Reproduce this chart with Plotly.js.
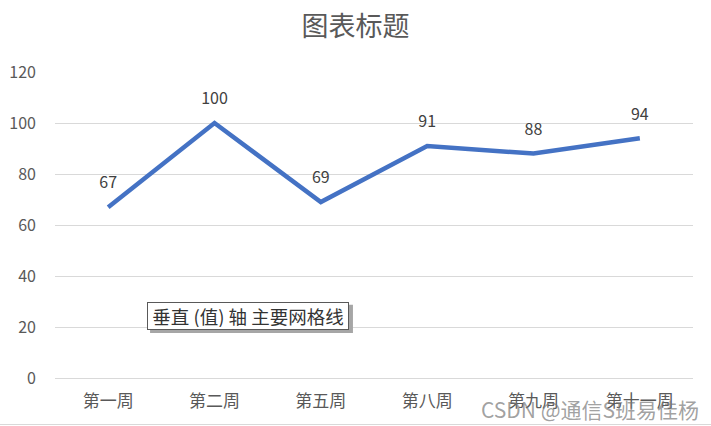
<!DOCTYPE html>
<html>
<head>
<meta charset="utf-8">
<script src="https://cdn.plot.ly/plotly-3.0.1.min.js"></script>
<style>html,body{margin:0;padding:0;background:#fff;}#chart{width:711px;height:426px;}</style>
</head>
<body>
<div id="chart"></div>
<script>
const categories = ["第一周", "第二周", "第五周", "第八周", "第九周", "第十一周"];
const values = [67, 100, 69, 91, 88, 94];
const yTicks = [0, 20, 40, 60, 80, 100, 120];
const chartTitle = "图表标题";
const tooltipText = "垂直 (值) 轴 主要网格线";
const watermark = "CSDN @通信S班易佳杨";

const FONT = '"Microsoft YaHei", "Noto Sans CJK SC", sans-serif';

const trace = {
  x: categories,
  y: values,
  type: "scatter",
  mode: "lines+markers+text",
  line: {color: "#4472C4", width: 4.5},
  marker: {size: 22, opacity: 0, color: "#4472C4"},
  text: values.map(String),
  textposition: "top center",
  textfont: {family: FONT, size: 16, color: "#404040"},
  hoverinfo: "none",
  cliponaxis: false
};

const layout = {
  width: 711,
  height: 426,
  margin: {l: 55, r: 18, t: 72, b: 48},
  paper_bgcolor: "#ffffff",
  plot_bgcolor: "#ffffff",
  showlegend: false,
  title: {text: chartTitle, font: {family: FONT, size: 27, color: "#595959"}, x: 0.5, xanchor: "center", y: 0.937, yanchor: "middle"},
  xaxis: {
    type: "category",
    range: [-0.5, categories.length - 0.5],
    tickfont: {family: FONT, size: 17, color: "#595959"},
    showgrid: false,
    showline: true,
    linecolor: "#d9d9d9",
    linewidth: 1,
    ticks: "",
    ticklabelstandoff: 8,
    zeroline: false,
    fixedrange: true
  },
  yaxis: {
    range: [0, 120],
    tickvals: yTicks,
    ticktext: yTicks.map(String),
    tickfont: {family: FONT, size: 16, color: "#595959"},
    showgrid: true,
    gridcolor: "#d9d9d9",
    gridwidth: 1,
    zeroline: false,
    showline: false,
    ticks: "",
    ticklabelstandoff: 18,
    fixedrange: true
  },
  shapes: [
    {type: "rect", xref: "paper", yref: "paper", x0: 0.149, x1: 0.467, y0: 0.147, y1: 0.239, fillcolor: "#a6a6a6", line: {width: 0}, layer: "above"},
    {type: "line", xref: "paper", yref: "paper", x0: -0.09, x1: 1.03, y0: -0.152, y1: -0.152, line: {color: "#d9d9d9", width: 1}}
  ],
  annotations: [
    {
      xref: "paper", yref: "paper", x: 0.144, y: 0.203, xanchor: "left", yanchor: "middle",
      text: tooltipText, showarrow: false, width: 196, height: 22, align: "center",
      font: {family: FONT, size: 18.5, color: "#333333"},
      bgcolor: "#ffffff", bordercolor: "#595959", borderwidth: 1, borderpad: 2
    },
    {
      xref: "paper", yref: "paper", x: 1.012, y: -0.102, xanchor: "right", yanchor: "middle",
      text: watermark, showarrow: false,
      font: {family: FONT, size: 21, color: "rgba(120,120,120,0.7)"}
    }
  ]
};

Plotly.newPlot("chart", [trace], layout, {displayModeBar: false, staticPlot: true});
</script>
</body>
</html>
